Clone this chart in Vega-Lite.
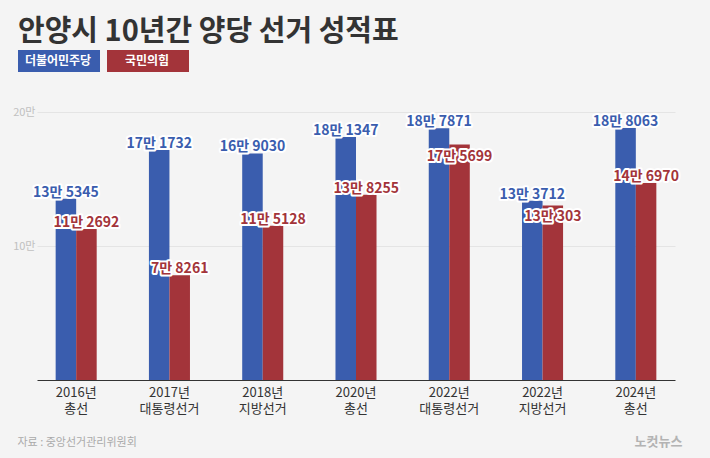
{
  "$schema": "https://vega.github.io/schema/vega-lite/v6.json",
  "width": 638,
  "height": 268,
  "autosize": "none",
  "padding": {"left": 37, "top": 112, "right": 35, "bottom": 78},
  "background": "#f4f4f4",
  "title": {
    "text": "안양시 10년간 양당 선거 성적표",
    "anchor": "start",
    "frame": "group",
    "baseline": "bottom",
    "dx": -19,
    "dy": 56,
    "offset": 0,
    "font": "Noto Sans CJK KR",
    "fontSize": 29,
    "fontWeight": "bold",
    "color": "#333333"
  },
  "data": {
    "values": [
      {"election": "2016년 총선", "party": "더불어민주당", "votes": 135345, "label": "13만 5345"},
      {"election": "2016년 총선", "party": "국민의힘", "votes": 112692, "label": "11만 2692"},
      {"election": "2017년 대통령선거", "party": "더불어민주당", "votes": 171732, "label": "17만 1732"},
      {"election": "2017년 대통령선거", "party": "국민의힘", "votes": 78261, "label": "7만 8261"},
      {"election": "2018년 지방선거", "party": "더불어민주당", "votes": 169030, "label": "16만 9030"},
      {"election": "2018년 지방선거", "party": "국민의힘", "votes": 115128, "label": "11만 5128"},
      {"election": "2020년 총선", "party": "더불어민주당", "votes": 181347, "label": "18만 1347"},
      {"election": "2020년 총선", "party": "국민의힘", "votes": 138255, "label": "13만 8255"},
      {"election": "2022년 대통령선거", "party": "더불어민주당", "votes": 187871, "label": "18만 7871"},
      {"election": "2022년 대통령선거", "party": "국민의힘", "votes": 175699, "label": "17만 5699"},
      {"election": "2022년 지방선거", "party": "더불어민주당", "votes": 133712, "label": "13만 3712"},
      {"election": "2022년 지방선거", "party": "국민의힘", "votes": 130303, "label": "13만 303"},
      {"election": "2024년 총선", "party": "더불어민주당", "votes": 188063, "label": "18만 8063"},
      {"election": "2024년 총선", "party": "국민의힘", "votes": 146970, "label": "14만 6970"}
    ]
  },
  "encoding": {
    "x": {
      "field": "election",
      "type": "nominal",
      "sort": null,
      "scale": {"paddingInner": 0.56, "paddingOuter": 0.2},
      "axis": {
        "title": "자료 : 중앙선거관리위원회",
        "titleX": -20,
        "titleY": 62,
        "titleAlign": "left",
        "titleAnchor": "start",
        "titleBaseline": "middle",
        "titleFont": "Noto Sans CJK KR",
        "titleFontSize": 11,
        "titleFontWeight": "normal",
        "titleColor": "#aaaaaa",
        "labelExpr": "split(datum.label, ' ')",
        "labelAngle": 0,
        "labelFont": "Noto Sans CJK KR",
        "labelFontSize": 13,
        "labelColor": "#333333",
        "labelLineHeight": 16,
        "labelPadding": 6,
        "ticks": false,
        "domainColor": "#333333",
        "domainWidth": 1
      }
    },
    "xOffset": {
      "field": "party",
      "type": "nominal",
      "scale": {"domain": ["더불어민주당", "국민의힘"], "paddingInner": 0, "paddingOuter": 0}
    },
    "y": {
      "field": "votes",
      "type": "quantitative",
      "scale": {"domain": [0, 200000]},
      "axis": {
        "values": [100000, 200000],
        "labelExpr": "datum.value / 10000 + '만'",
        "labelFont": "Noto Sans CJK KR",
        "labelFontSize": 11,
        "labelColor": "#c0c0c0",
        "labelPadding": 2,
        "domain": false,
        "ticks": false,
        "gridColor": "#e4e4e4",
        "title": "노컷뉴스",
        "titleAngle": 0,
        "titleX": 621,
        "titleY": 329,
        "titleAlign": "center",
        "titleBaseline": "middle",
        "titleFont": "Noto Sans CJK KR",
        "titleFontSize": 13,
        "titleFontWeight": "bold",
        "titleColor": "#b3b3b3"
      }
    },
    "color": {
      "field": "party",
      "type": "nominal",
      "scale": {"domain": ["더불어민주당", "국민의힘"], "range": ["#3a5dae", "#a3343a"]},
      "legend": {
        "title": null,
        "orient": "none",
        "legendX": -19,
        "legendY": -92,
        "direction": "horizontal",
        "symbolType": "M-1,-0.268H1V0.268H-1Z",
        "symbolSize": 6724,
        "symbolStrokeWidth": 0,
        "symbolOpacity": 1,
        "labelOffset": -42,
        "labelAlign": "center",
        "labelColor": "#ffffff",
        "labelFont": "Noto Sans CJK KR",
        "labelFontSize": 12,
        "labelFontWeight": "bold",
        "columnPadding": 7
      }
    }
  },
  "layer": [
    {"mark": {"type": "bar"}},
    {
      "transform": [{"filter": "!(datum.party == '국민의힘' && (datum.election == '2022년 대통령선거' || datum.election == '2022년 지방선거'))"}],
      "mark": {"type": "text", "baseline": "alphabetic", "dy": -2, "font": "Noto Sans CJK KR", "fontSize": 14, "fontWeight": "bold", "stroke": "#ffffff", "strokeWidth": 4, "strokeJoin": "round"},
      "encoding": {"text": {"field": "label"}, "color": {"value": "#ffffff"}}
    },
    {
      "transform": [{"filter": "datum.party == '국민의힘' && (datum.election == '2022년 대통령선거' || datum.election == '2022년 지방선거')"}],
      "mark": {"type": "text", "baseline": "top", "dy": 5, "font": "Noto Sans CJK KR", "fontSize": 14, "fontWeight": "bold", "stroke": "#ffffff", "strokeWidth": 4, "strokeJoin": "round"},
      "encoding": {"text": {"field": "label"}, "color": {"value": "#ffffff"}}
    },
    {
      "transform": [{"filter": "!(datum.party == '국민의힘' && (datum.election == '2022년 대통령선거' || datum.election == '2022년 지방선거'))"}],
      "mark": {"type": "text", "baseline": "alphabetic", "dy": -2, "font": "Noto Sans CJK KR", "fontSize": 14, "fontWeight": "bold"},
      "encoding": {"text": {"field": "label"}}
    },
    {
      "transform": [{"filter": "datum.party == '국민의힘' && (datum.election == '2022년 대통령선거' || datum.election == '2022년 지방선거')"}],
      "mark": {"type": "text", "baseline": "top", "dy": 5, "font": "Noto Sans CJK KR", "fontSize": 14, "fontWeight": "bold"},
      "encoding": {"text": {"field": "label"}}
    }
  ],
  "config": {
    "view": {"stroke": null}
  }
}
